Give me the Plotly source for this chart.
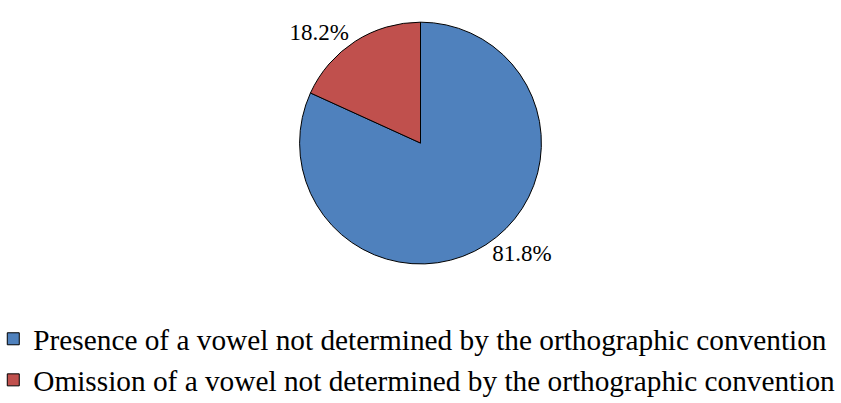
import plotly.graph_objects as go

labels = ["Presence of a vowel not determined by the orthographic convention",
          "Omission of a vowel not determined by the orthographic convention"]
values = [81.8, 18.2]
colors = ["#4F81BD", "#C0504D"]

fig = go.Figure(go.Pie(
    labels=labels,
    values=values,
    sort=False,
    direction="clockwise",
    rotation=0,
    marker=dict(colors=colors, line=dict(color="black", width=1)),
    texttemplate="%{value:.1f}%",
    textposition="outside",
    textfont=dict(family="Liberation Serif, Times New Roman, serif", size=23, color="black"),
    domain=dict(x=[0, 1], y=[0.345, 0.945]),
    hoverinfo="label+value",
))

fig.update_layout(
    width=841, height=403,
    margin=dict(l=0, r=0, t=0, b=0, autoexpand=False),
    paper_bgcolor="white",
    font=dict(family="Liberation Serif, Times New Roman, serif", color="black"),
    showlegend=True,
    legend=dict(
        orientation="v", x=-0.008, xanchor="left", y=-0.008, yanchor="bottom",
        font=dict(size=29.3, color="black"),
        bgcolor="rgba(0,0,0,0)",
    ),
)

fig.write_html("out.html")
